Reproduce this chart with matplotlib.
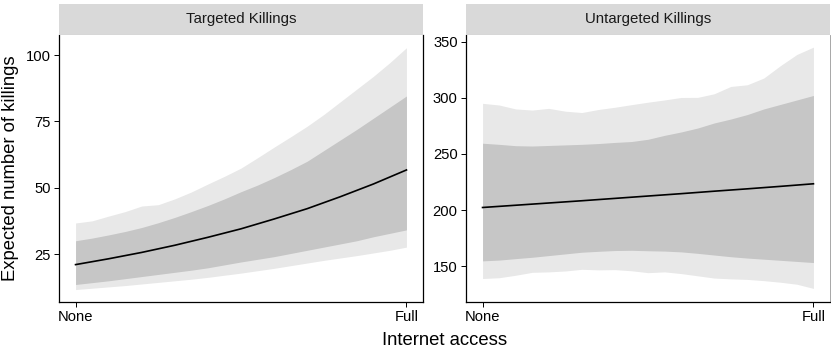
import numpy as np
import matplotlib.pyplot as plt
from matplotlib.patches import Rectangle

plt.rcParams['font.family'] = ['Liberation Sans', 'DejaVu Sans']

# internet access, from none (0) to full (1)
access = np.linspace(0, 1, 21)
access_mean = np.linspace(0, 1, 11)

# targeted killings: mean and 68% / 95% intervals
tgt_mean = [21.0, 23.2, 25.6, 28.3, 31.3, 34.5, 38.2, 42.1, 46.6, 51.4, 56.7]
tgt_lo95 = [11.6, 12.1, 12.6, 13.1, 13.7, 14.3, 14.9, 15.5, 16.2, 17.0, 17.8,
            18.7, 19.6, 20.6, 21.6, 22.6, 23.5, 24.4, 25.4, 26.4, 27.6]
tgt_lo68 = [13.5, 14.2, 14.9, 15.7, 16.5, 17.3, 18.1, 18.9, 19.8, 20.9, 22.0,
            23.0, 24.0, 25.2, 26.4, 27.6, 28.8, 30.0, 31.5, 32.8, 34.1]
tgt_hi68 = [30.0, 31.0, 32.2, 33.5, 35.0, 36.8, 38.8, 41.0, 43.3, 45.8, 48.5,
            51.0, 53.8, 56.8, 60.0, 64.0, 68.0, 72.0, 76.2, 80.4, 84.6]
tgt_hi95 = [36.7, 37.5, 39.3, 41.0, 43.1, 43.6, 45.8, 48.4, 51.4, 54.3, 57.4,
            61.3, 65.3, 69.2, 73.2, 77.6, 82.4, 87.2, 92.0, 97.2, 102.8]

# untargeted killings
unt_mean = [202.3, 204.3, 206.3, 208.3, 210.4, 212.5, 214.6, 216.8, 218.9, 221.1, 223.4]
unt_lo95 = [139.1, 139.8, 142.0, 144.6, 145.0, 145.8, 147.3, 146.8, 147.0, 146.0, 144.3,
            145.0, 143.5, 141.5, 139.5, 138.8, 138.3, 137.2, 135.8, 134.0, 130.3]
unt_lo68 = [154.8, 155.5, 156.8, 158.0, 159.5, 161.0, 162.5, 163.3, 164.0, 164.2, 163.8,
            163.5, 162.8, 161.5, 160.0, 158.5, 157.3, 156.3, 155.3, 154.3, 153.3]
unt_hi68 = [259.5, 258.5, 257.3, 257.0, 257.5, 258.0, 258.5, 259.2, 260.2, 261.0, 263.0,
            266.5, 269.5, 273.0, 277.5, 281.0, 285.0, 290.0, 294.0, 298.0, 302.0]
unt_hi95 = [295.0, 293.5, 290.0, 289.0, 290.5, 288.0, 286.8, 289.5, 291.5, 293.8, 296.0,
            298.0, 300.2, 300.3, 303.5, 310.0, 311.5, 317.5, 328.5, 338.5, 345.0]

panels = [
    ("Targeted Killings", tgt_mean, tgt_lo95, tgt_lo68, tgt_hi68, tgt_hi95,
     [25, 50, 75, 100], (6.9, 107.6)),
    ("Untargeted Killings", unt_mean, unt_lo95, unt_lo68, unt_hi68, unt_hi95,
     [150, 200, 250, 300, 350], (118.2, 355.8)),
]

W, H = 831, 349
fig = plt.figure(figsize=(W / 100, H / 100), dpi=100)

lefts = [59, 466]
pw = 364
ax_bottom, ax_top = 302, 35
strip_top = 4

for i, (title, mean, lo95, lo68, hi68, hi95, yticks, ylim) in enumerate(panels):
    x0 = lefts[i]
    ax = fig.add_axes([x0 / W, (H - ax_bottom) / H, pw / W, (ax_bottom - ax_top) / H])
    ax.fill_between(access, lo95, hi95, color='#e8e8e8', lw=0)
    ax.fill_between(access, lo68, hi68, color='#c6c6c6', lw=0)
    ax.plot(access_mean, mean, color='black', lw=1.2)
    ax.set_xlim(-0.05, 1.05)
    ax.set_ylim(*ylim)
    ax.set_xticks([0, 1])
    ax.set_xticklabels(['None', 'Full'])
    ax.set_yticks(yticks)
    ax.tick_params(labelsize=10.6, length=3.5, width=0.7, color='black',
                   labelcolor='black', pad=2.5)
    for s in ['left', 'bottom']:
        ax.spines[s].set_linewidth(0.9)
    ax.spines['top'].set_visible(False)
    if i == 0:
        ax.spines['right'].set_linewidth(0.9)
    else:
        ax.spines['right'].set_color('#999999')
        ax.spines['right'].set_linewidth(0.6)

    # facet strip
    sax = fig.add_axes([x0 / W, (H - ax_top) / H, pw / W, (ax_top - strip_top) / H])
    sax.set_xlim(0, 1)
    sax.set_ylim(0, 1)
    sax.axis('off')
    sax.add_patch(Rectangle((0, 0), 1, 1, facecolor='#d9d9d9', edgecolor='none'))
    sax.axhline(0, color='#bdbdbd', lw=0.8)
    sax.text(0.5, 0.5, title, ha='center', va='center', fontsize=10.8, color='#1a1a1a')

fig.text(11 / W, 1 - 168 / H, 'Expected number of killings', rotation=90,
         ha='center', va='center', fontsize=13.3)
fig.text(445 / W, 1 - 345 / H, 'Internet access', ha='center', va='baseline', fontsize=13.3)

fig.savefig('out.png', dpi=100)
